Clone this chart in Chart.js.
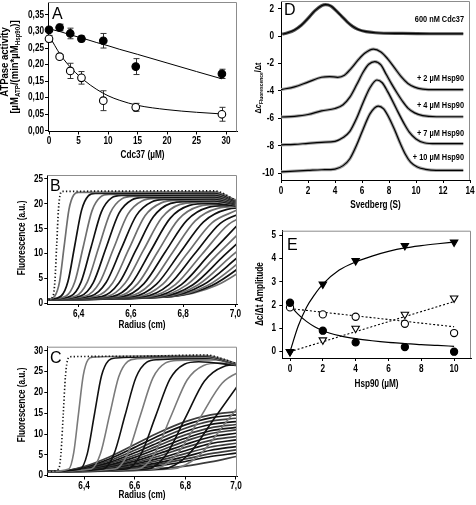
<!DOCTYPE html>
<html>
<head>
<meta charset="utf-8">
<script src="https://cdn.jsdelivr.net/npm/chart.js@4.4.1/dist/chart.umd.min.js"></script>
<style>
  body { margin: 0; background: #fff; }
  #wrap { position: relative; width: 476px; height: 505px; overflow: hidden; background: #fff; }
  canvas { position: absolute; }
</style>
</head>
<body>
<div id="wrap">
  <canvas id="panelA"></canvas>
  <canvas id="panelB"></canvas>
  <canvas id="panelC"></canvas>
  <canvas id="panelD"></canvas>
  <canvas id="panelE"></canvas>
</div>
<script>
// ---------- A : ATPase activity vs Cdc37
var aConc = [0, 1.8, 3.6, 5.5, 9.2, 14.7, 29.3];
var aFilled = [0.305, 0.312, 0.294, 0.278, 0.272, 0.194, 0.172];
var aFilledErr = [0.006, 0.01, 0.016, 0.009, 0.022, 0.024, 0.014];
var aOpen = [0.278, 0.224, 0.181, 0.160, 0.091, 0.071, 0.050];
var aOpenErr = [0.01, 0.006, 0.023, 0.019, 0.03, 0.012, 0.021];
var aFitX = [0, 2, 4, 6, 8, 10, 12, 15, 20, 25, 29.3];
var aFitFilled = [0.308, 0.299, 0.288, 0.278, 0.267, 0.257, 0.246, 0.231, 0.205, 0.179, 0.157];
var aFitOpen = [0.288, 0.228, 0.185, 0.152, 0.126, 0.106, 0.092, 0.077, 0.064, 0.056, 0.051];

// ---------- B : scans, [radius cm, fluorescence]
var bStart = [6.285, 0.8];
var bScans = [
  [[6.302,1.5],[6.309,4.4],[6.316,11.8],[6.323,19.1],[6.330,22.0],[6.337,22.5],[6.920,22.6],[7.0,20.8]],
  [[6.309,1.5],[6.327,4.4],[6.345,11.7],[6.363,18.9],[6.381,21.8],[6.399,22.3],[6.920,22.4],[7.0,20.8]],
  [[6.333,1.5],[6.359,4.4],[6.385,11.6],[6.411,18.7],[6.437,21.6],[6.463,22.1],[6.920,22.2],[7.0,20.7]],
  [[6.352,1.5],[6.385,4.3],[6.418,11.5],[6.451,18.6],[6.484,21.4],[6.517,21.9],[6.920,22.0],[7.0,20.6]],
  [[6.370,1.5],[6.409,4.3],[6.448,11.4],[6.487,18.4],[6.526,21.2],[6.565,21.7],[6.920,21.8],[7.0,20.5]],
  [[6.389,1.5],[6.433,4.3],[6.477,11.3],[6.521,18.2],[6.565,21.0],[6.609,21.5],[6.920,21.6],[7.0,20.4]],
  [[6.407,1.5],[6.456,4.2],[6.505,11.2],[6.554,18.1],[6.603,20.8],[6.652,21.3],[6.920,21.4],[7.0,20.3]],
  [[6.426,1.5],[6.480,4.2],[6.534,11.1],[6.588,17.9],[6.642,20.6],[6.696,21.1],[6.920,21.2],[7.0,20.2]],
  [[6.447,1.5],[6.505,4.2],[6.563,11.0],[6.621,17.7],[6.679,20.4],[6.737,20.9],[6.920,21.0],[7.0,20.1]],
  [[6.468,1.5],[6.530,4.1],[6.592,10.9],[6.654,17.6],[6.716,20.2],[6.778,20.7],[6.920,20.8],[7.0,20.0]],
  [[6.488,1.4],[6.554,4.1],[6.620,10.8],[6.686,17.4],[6.752,20.1],[6.818,20.5],[6.920,20.6],[7.0,19.9]],
  [[6.508,1.4],[6.578,4.1],[6.648,10.7],[6.718,17.2],[6.788,19.9],[6.858,20.3],[6.930,20.4],[7.0,19.8]],
  [[6.528,1.4],[6.602,4.0],[6.676,10.6],[6.750,17.1],[6.824,19.7],[6.898,20.1],[7.0,19.6]],
  [[6.548,1.4],[6.626,4.0],[6.704,10.5],[6.782,16.9],[6.860,19.5],[6.938,19.9],[7.0,19.5]],
  [[6.568,1.4],[6.650,4.0],[6.732,10.4],[6.814,16.7],[6.896,19.3],[6.978,19.7]],
  [[6.588,1.4],[6.674,3.9],[6.760,10.3],[6.846,16.6],[6.932,19.1],[7.018,19.5]],
  [[6.608,1.4],[6.698,3.9],[6.788,10.2],[6.878,16.4],[6.968,18.9],[7.058,19.3]],
  [[6.628,1.4],[6.722,3.9],[6.816,10.1],[6.910,16.2],[7.004,18.7]],
  [[6.648,1.4],[6.746,3.8],[6.844,10.0],[6.942,16.1],[7.040,18.5]],
  [[6.668,1.4],[6.770,3.8],[6.872,9.9],[6.974,15.9],[7.076,18.3]],
  [[6.686,1.4],[6.793,3.8],[6.900,9.8],[7.007,15.7]],
  [[6.702,1.4],[6.815,3.8],[6.928,9.7],[7.041,15.5]],
  [[6.716,1.4],[6.836,3.7],[6.956,9.6],[7.076,15.4]],
  [[6.728,1.4],[6.856,3.7],[6.984,9.5],[7.112,15.2]],
  [[6.738,1.4],[6.875,3.7],[7.012,9.4]],
  [[6.746,1.4],[6.893,3.6],[7.040,9.3]],
  [[6.752,1.4],[6.910,3.6],[7.068,9.2]],
  [[6.756,1.4],[6.926,3.6],[7.096,9.1]]
];

// ---------- C : scans with Hsp90
var cStart = [6.255, 0.95];
var cScans = [
  [[6.300,1.6],[6.309,5.4],[6.318,14.8],[6.327,24.2],[6.336,28.0],[6.345,28.6],[6.600,28.7],[6.880,29.0],[7.0,27.0]],
  [[6.340,1.6],[6.359,5.4],[6.378,14.8],[6.397,24.1],[6.416,27.9],[6.435,28.5],[6.880,28.9],[7.0,27.0]],
  [[6.385,1.6],[6.413,5.3],[6.441,14.7],[6.469,24.0],[6.497,27.7],[6.525,28.3],[6.880,28.7],[7.0,26.9]],
  [[6.429,1.6],[6.465,5.3],[6.501,14.6],[6.537,23.8],[6.573,27.5],[6.609,28.1],[6.880,28.5],[7.0,26.8]],
  [[6.476,1.6],[6.519,5.3],[6.562,14.5],[6.605,23.6],[6.648,27.3],[6.691,27.9],[6.900,28.2],[7.0,26.7]],
  [[6.522,1.6],[6.572,5.2],[6.622,14.4],[6.672,23.5],[6.722,27.1],[6.772,27.7],[6.920,27.8],[7.0,26.6]],
  [[6.568,1.6],[6.625,5.2],[6.682,14.2],[6.739,23.2],[6.796,26.8],[6.853,27.4],[7.0,26.5]],
  [[6.612,1.6],[6.677,5.1],[6.742,14.1],[6.807,23.0],[6.872,26.5],[6.937,27.1],[7.0,26.6]],
  [[6.650,1.6],[6.725,5.1],[6.800,13.9],[6.875,22.7],[6.950,26.2],[7.025,26.8]],
  [[6.675,1.6],[6.765,5.0],[6.855,13.6],[6.945,22.2],[7.035,25.6]],
  [[6.710,1.6],[6.810,4.9],[6.910,13.4],[7.010,21.9]],
  [[6.745,1.6],[6.855,4.9],[6.965,13.2],[7.075,21.5]]
];
var cFanX = [6.3, 6.4, 6.5, 6.6, 6.7, 6.8, 6.9, 7.0];
var cFanY = [
  [1.0, 2.2, 4.5, 7.5, 10.5, 13.0, 14.6, 15.4],
  [1.0, 2.0, 4.0, 6.8, 9.7, 12.2, 13.9, 14.6],
  [1.0, 1.9, 3.6, 6.1, 8.9, 11.4, 13.1, 13.8],
  [1.0, 1.8, 3.2, 5.5, 8.1, 10.6, 12.3, 13.0],
  [1.0, 1.7, 2.9, 4.9, 7.4, 9.8, 11.5, 12.3],
  [1.0, 1.6, 2.6, 4.4, 6.7, 9.0, 10.8, 11.6],
  [1.0, 1.5, 2.4, 3.9, 6.0, 8.3, 10.1, 11.0],
  [1.0, 1.45, 2.2, 3.5, 5.4, 7.5, 9.3, 10.2],
  [1.0, 1.4, 2.0, 3.1, 4.8, 6.8, 8.5, 9.4],
  [1.0, 1.35, 1.85, 2.8, 4.2, 6.0, 7.7, 8.6],
  [1.0, 1.3, 1.7, 2.5, 3.7, 5.3, 6.9, 7.8],
  [1.0, 1.25, 1.6, 2.2, 3.2, 4.6, 6.1, 7.0],
  [1.0, 1.2, 1.5, 2.0, 2.8, 4.0, 5.3, 6.2],
  [1.0, 1.15, 1.4, 1.8, 2.4, 3.4, 4.6, 5.4],
  [1.0, 1.1, 1.25, 1.45, 1.75, 2.3, 3.3, 4.6]
];

// ---------- D : dc/dt distributions (Svedberg)
var dCdcX = [0.1, 0.5, 1, 1.5, 2, 2.5, 3, 3.3, 3.7, 4.1, 4.5, 4.9, 5.3, 5.7, 6.3, 7, 9, 11, 13.5];
var dCdcY = [0.15, 0.25, 0.45, 0.8, 1.3, 1.85, 2.22, 2.3, 2.2, 1.85, 1.45, 1.05, 0.72, 0.5, 0.33, 0.25, 0.2, 0.18, 0.18];
var d2X = [0, 1, 2, 3, 3.6, 4.2, 4.7, 5.2, 5.7, 6.2, 6.85, 7.4, 7.9, 8.4, 8.9, 9.4, 9.9, 10.5, 11.5, 13.5];
var d2Y = [-3.9, -3.7, -3.35, -3.0, -2.95, -3.0, -2.85, -2.35, -1.75, -1.25, -0.95, -1.15, -1.65, -2.3, -2.95, -3.45, -3.72, -3.86, -3.9, -3.9];
var d4X = [0, 1, 2, 3, 4, 4.6, 5.1, 5.6, 6.1, 6.5, 6.95, 7.4, 7.8, 8.2, 8.6, 9.0, 9.4, 9.9, 10.5, 11.5, 13.5];
var d4Y = [-5.9, -5.85, -5.72, -5.45, -5.28, -5.0, -4.45, -3.55, -2.6, -2.05, -1.85, -2.1, -2.8, -3.5, -4.15, -4.75, -5.25, -5.6, -5.8, -5.88, -5.88];
var d7X = [0, 1, 2, 3, 4, 4.6, 5.1, 5.6, 6.1, 6.6, 7.1, 7.5, 7.9, 8.3, 8.7, 9.1, 9.5, 10.0, 10.6, 11.5, 13.5];
var d7Y = [-7.93, -7.9, -7.82, -7.75, -7.68, -7.4, -6.95, -6.0, -4.8, -3.75, -3.2, -3.4, -4.05, -4.8, -5.6, -6.35, -7.0, -7.5, -7.78, -7.85, -7.85];
var d10X = [0, 1, 2, 3, 4, 4.6, 5.1, 5.6, 6.1, 6.6, 7.2, 7.6, 8.0, 8.4, 8.8, 9.2, 9.6, 10.1, 10.7, 11.5, 13.5];
var d10Y = [-9.9, -9.85, -9.8, -9.75, -9.7, -9.45, -8.95, -7.95, -6.75, -5.65, -5.1, -5.3, -5.95, -6.8, -7.75, -8.6, -9.2, -9.55, -9.72, -9.8, -9.8];
var dLabels = ['600 nM Cdc37', '+ 2 µM Hsp90', '+ 4 µM Hsp90', '+ 7 µM Hsp90', '+ 10 µM Hsp90'];

// ---------- E : amplitudes vs Hsp90
var eHsp = [0, 2, 4, 7, 10];
var eTriFilled = [0, 2.9, 3.9, 4.55, 4.7];
var eTriOpen = [0, 0.5, 1.0, 1.6, 2.3];
var eDotFilled = [2.1, 0.9, 0.4, 0.2, 0];
var eDotOpen = [1.9, 1.6, 1.5, 1.2, 0.8];
var eFitX = [0, 0.5, 1, 1.5, 2, 3, 4, 5, 6, 7, 8, 9, 10];
var eFitRise = [0, 1.1, 1.9, 2.45, 2.9, 3.5, 3.85, 4.1, 4.3, 4.45, 4.55, 4.63, 4.7];
var eFitDecay = [2.0, 1.6, 1.3, 1.07, 0.9, 0.69, 0.56, 0.47, 0.4, 0.35, 0.3, 0.27, 0.23];
var eLineX = [0, 10];
var eLineDotOpen = [1.85, 1.07];
var eLineTriOpen = [0, 2.15];

// ---------- tick labels
var aTicksX = [0, 5, 10, 15, 20, 25, 30];
var aTicksY = [0, 0.05, 0.1, 0.15, 0.2, 0.25, 0.3, 0.35];
var radTicks = [6.4, 6.6, 6.8, 7.0];
var bTicksY = [0, 5, 10, 15, 20, 25];
var cTicksY = [0, 5, 10, 15, 20, 25, 30];
var dTicksX = [0, 2, 4, 6, 8, 10, 12, 14];
var dTicksY = [-10, -8, -6, -4, -2, 0, 2];
var eTicksX = [0, 2, 4, 6, 8, 10];
var eTicksY = [0, 1, 2, 3, 4, 5];

var FAM = "'Liberation Sans', Arial, Helvetica, sans-serif";
var SQ = 0.82; // lettering in the figure is squeezed horizontally

function put(ctx, s, x, y, o) {
  o = o || {};
  ctx.save();
  ctx.translate(x, y);
  if (o.rot) ctx.rotate(-Math.PI / 2);
  ctx.scale(o.sq || SQ, 1);
  ctx.font = (o.bold === false ? '' : 'bold ') + (o.size || 10) + 'px ' + FAM;
  ctx.fillStyle = '#000';
  ctx.textAlign = o.align || 'center';
  ctx.textBaseline = o.base || 'middle';
  ctx.fillText(s, 0, 0);
  ctx.restore();
}

// rotated text made of pieces (subscripts, italics)
function putRich(ctx, parts, x, y, sq) {
  ctx.save();
  ctx.translate(x, y);
  ctx.rotate(-Math.PI / 2);
  ctx.scale(sq || SQ, 1);
  ctx.fillStyle = '#000';
  ctx.textBaseline = 'alphabetic';
  ctx.textAlign = 'left';
  var fonts = parts.map(function (p) { return (p.it ? 'italic ' : '') + 'bold ' + p.s + 'px ' + FAM; });
  var w = 0;
  parts.forEach(function (p, i) { ctx.font = fonts[i]; w += ctx.measureText(p.t).width; });
  var cx = -w / 2;
  parts.forEach(function (p, i) {
    ctx.font = fonts[i];
    ctx.fillText(p.t, cx, 3.5 + (p.dy || 0));
    cx += ctx.measureText(p.t).width;
  });
  ctx.restore();
}

function fmt(v, dec) { return v.toFixed(dec).replace('.', ','); }
function pts(xs, ys) { return xs.map(function (x, i) { return { x: x, y: ys[i] }; }); }
function pairs(list) { return list.map(function (p) { return { x: p[0], y: p[1] }; }); }

function curve(data, color, width, dash) {
  return {
    data: data, showLine: true, pointRadius: 0, borderColor: color, borderWidth: width,
    borderDash: dash || [], cubicInterpolationMode: 'monotone', clip: 0, fill: false
  };
}
function marks(data, style, fillCol, r, rot) {
  return {
    data: data, showLine: false, pointStyle: style, pointRadius: r, pointRotation: rot || 0,
    backgroundColor: fillCol, borderColor: '#000', borderWidth: 1.1, clip: false
  };
}

function panel(id, box, sx, sy, area, datasets, deco) {
  var cv = document.getElementById(id);
  cv.width = box.w; cv.height = box.h;
  cv.style.left = box.x + 'px'; cv.style.top = box.y + 'px';

  function axis(s, size) {
    return {
      type: 'linear', min: s.min, max: s.max,
      afterFit: function (sc) { if (sc.isHorizontal()) sc.height = size; else sc.width = size; },
      afterBuildTicks: function (sc) { sc.ticks = s.ticks.map(function (v) { return { value: v }; }); },
      grid: { drawOnChartArea: false, drawTicks: true, tickLength: 3, color: '#000', lineWidth: 1 },
      border: { display: true, color: '#000', width: 1 },
      ticks: { display: false }
    };
  }
  function onPage(chart, fn) {
    var ctx = chart.ctx, xs = chart.scales.x, ys = chart.scales.y;
    var px = function (v) { return xs.getPixelForValue(v) + box.x; };
    var py = function (v) { return ys.getPixelForValue(v) + box.y; };
    ctx.save();
    ctx.translate(-box.x, -box.y);
    fn(ctx, px, py, chart.chartArea);
    ctx.restore();
  }

  return new Chart(cv, {
    type: 'scatter',
    data: { datasets: datasets },
    options: {
      responsive: false, animation: false, events: [],
      layout: { autoPadding: false, padding: { left: 0, bottom: 0, top: area.t - box.y, right: box.x + box.w - area.r } },
      plugins: { legend: { display: false }, tooltip: { enabled: false } },
      scales: { x: axis(sx, box.y + box.h - area.b), y: axis(sy, area.l - box.x) }
    },
    plugins: [{
      id: 'deco',
      beforeDatasetsDraw: function (chart) {
        if (deco.under) onPage(chart, deco.under);
      },
      afterDraw: function (chart) {
        onPage(chart, function (ctx, px, py, ca) {
          // grey frame on top and right
          ctx.strokeStyle = '#8c8c8c';
          ctx.lineWidth = 1;
          ctx.beginPath();
          ctx.moveTo(ca.left + box.x, ca.top + box.y + 0.5);
          ctx.lineTo(ca.right + box.x - 0.5, ca.top + box.y + 0.5);
          ctx.lineTo(ca.right + box.x - 0.5, ca.bottom + box.y);
          ctx.stroke();
          sx.ticks.forEach(function (v) { put(ctx, fmt(v, sx.dec), px(v), sx.lab); });
          sy.ticks.forEach(function (v) { put(ctx, fmt(v, sy.dec), sy.lab, py(v), { align: 'right' }); });
          if (deco.over) deco.over(ctx, px, py);
        });
      }
    }]
  });
}

function letter(ctx, s, x, y) {
  put(ctx, s, x, y, { size: 16, bold: false, sq: 1, align: 'left', base: 'alphabetic' });
}

function errBars(ctx, px, py, xs, ys, es) {
  ctx.strokeStyle = '#333';
  ctx.lineWidth = 1;
  xs.forEach(function (x, i) {
    var X = Math.round(px(x)) + 0.5, y1 = py(ys[i] - es[i]), y2 = py(ys[i] + es[i]);
    ctx.beginPath();
    ctx.moveTo(X, y1); ctx.lineTo(X, y2);
    ctx.moveTo(X - 3, y1); ctx.lineTo(X + 3, y1);
    ctx.moveTo(X - 3, y2); ctx.lineTo(X + 3, y2);
    ctx.stroke();
  });
}

// ---------- panel A
panel('panelA', { x: 0, y: 0, w: 246, h: 165 },
  { min: -0.17, max: 31.86, ticks: aTicksX, dec: 0, lab: 141.7 },
  { min: -0.002, max: 0.389, ticks: aTicksY, dec: 2, lab: 44 },
  { l: 48, t: 2, r: 237, b: 131.5 },
  [
    marks(pts(aConc, aFilled), 'circle', '#000', 3.8),
    marks(pts(aConc, aOpen), 'circle', '#fff', 3.8),
    curve(pts(aFitX, aFitFilled), '#000', 1),
    curve(pts(aFitX, aFitOpen), '#000', 1)
  ],
  {
    under: function (ctx, px, py) {
      errBars(ctx, px, py, aConc, aFilled, aFilledErr);
      errBars(ctx, px, py, aConc, aOpen, aOpenErr);
    },
    over: function (ctx) {
      letter(ctx, 'A', 52, 18.5);
      put(ctx, 'Cdc37 (µM)', 142.5, 155);
      put(ctx, 'ATPase activity', 5.5, 62, { rot: true, sq: 0.95 });
      putRich(ctx, [
        { t: '[µM', s: 10 }, { t: 'ATP', s: 6.5, dy: 2.5 },
        { t: '/(min*µM', s: 10 }, { t: 'Hsp90', s: 6.5, dy: 2.5 }, { t: ')]', s: 10 }
      ], 14, 67, 0.95);
    }
  });

// ---------- panel B
var bSets = bScans.map(function (s, i) {
  return curve(pairs([bStart].concat(s)), i % 2 ? '#6e6e6e' : '#111', 1.7, i === 0 ? [1.3, 2.2] : null);
});
panel('panelB', { x: 0, y: 165, w: 246, h: 165 },
  { min: 6.28, max: 7.006, ticks: radTicks, dec: 1, lab: 314 },
  { min: -0.1, max: 25.8, ticks: bTicksY, dec: 0, lab: 43 },
  { l: 47.3, t: 175, r: 237, b: 304 },
  bSets,
  {
    over: function (ctx) {
      letter(ctx, 'B', 50, 190.7);
      put(ctx, 'Radius (cm)', 142, 325);
      put(ctx, 'Fluorescence (a.u.)', 22, 238, { rot: true });
    }
  });

// ---------- panel C
var cSets = cScans.map(function (s, i) {
  return curve(pairs([cStart].concat(s)), i % 2 ? '#7a7a7a' : '#111', 1.6, i === 0 ? [1.3, 2.2] : null);
});
cFanY.forEach(function (ys, i) {
  cSets.push(curve([{ x: cStart[0], y: cStart[1] }].concat(pts(cFanX, ys)), i % 2 ? '#111' : '#3c3c3c', 1.7));
});
panel('panelC', { x: 0, y: 330, w: 246, h: 175 },
  { min: 6.255, max: 7.004, ticks: radTicks, dec: 1, lab: 486 },
  { min: -0.2, max: 31.0, ticks: cTicksY, dec: 0, lab: 43 },
  { l: 47.3, t: 346.7, r: 237, b: 476.5 },
  cSets,
  {
    over: function (ctx) {
      letter(ctx, 'C', 50, 363.3);
      put(ctx, 'Radius (cm)', 142, 495);
      put(ctx, 'Fluorescence (a.u.)', 22, 405, { rot: true });
    }
  });

// ---------- panel D
var dSets = [];
[[dCdcX, dCdcY], [d2X, d2Y], [d4X, d4Y], [d7X, d7Y], [d10X, d10Y]].forEach(function (c, i) {
  dSets.push(curve(pts(c[0], c[1]), '#000', 1.2));
  dSets.push(curve(pts(c[0], c[1]), i === 0 ? '#555' : '#a5a5a5', 3.2));
});
panel('panelD', { x: 240, y: 0, w: 236, h: 215 },
  { min: 0, max: 14, ticks: dTicksX, dec: 0, lab: 191.7 },
  { min: -10.5, max: 2.57, ticks: dTicksY, dec: 0, lab: 274 },
  { l: 281, t: 1, r: 470, b: 180 },
  dSets,
  {
    over: function (ctx) {
      letter(ctx, 'D', 284, 15);
      put(ctx, 'Svedberg (S)', 375.5, 205);
      putRich(ctx, [
        { t: 'Δ', s: 9 }, { t: 'c', s: 9, it: true }, { t: 'Fluorescence', s: 6, dy: 2 }, { t: '/Δt', s: 9 }
      ], 257, 88);
      var ly = [20, 79, 106, 134, 158];
      dLabels.forEach(function (s, i) { put(ctx, s, 464, ly[i], { size: 9, align: 'right' }); });
    }
  });

// ---------- panel E
panel('panelE', { x: 240, y: 215, w: 236, h: 180 },
  { min: -0.47, max: 11.03, ticks: eTicksX, dec: 0, lab: 369.5 },
  { min: -0.27, max: 5.19, ticks: eTicksY, dec: 0, lab: 276 },
  { l: 282.3, t: 230.7, r: 471, b: 358 },
  [
    marks(pts(eHsp, eTriFilled), 'triangle', '#000', 4.3, 180),
    marks(pts(eHsp, eDotFilled), 'circle', '#000', 3.6),
    marks(pts(eHsp, eTriOpen), 'triangle', '#fff', 4.3, 180),
    marks(pts(eHsp, eDotOpen), 'circle', '#fff', 3.6),
    curve(pts(eFitX, eFitRise), '#000', 1.2),
    curve(pts(eFitX, eFitDecay), '#000', 1.2),
    curve(pts(eLineX, eLineDotOpen), '#000', 1.1, [2, 2]),
    curve(pts(eLineX, eLineTriOpen), '#000', 1.1, [2, 2])
  ],
  {
    over: function (ctx) {
      letter(ctx, 'E', 287, 249.5);
      put(ctx, 'Hsp90 (µM)', 376.5, 384);
      put(ctx, 'Δc/Δt Amplitude', 260, 294, { rot: true });
    }
  });
</script>
</body>
</html>
